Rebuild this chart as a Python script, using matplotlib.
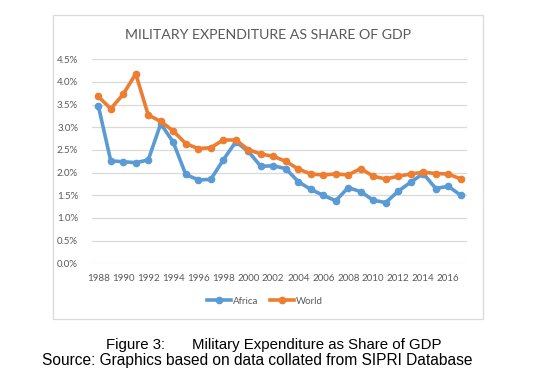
import matplotlib
matplotlib.use("Agg")
import matplotlib.pyplot as plt
from matplotlib.patches import Rectangle
from matplotlib.ticker import FuncFormatter, FixedLocator
from matplotlib.lines import Line2D

years = list(range(1988, 2018))
africa = [3.48, 2.26, 2.24, 2.22, 2.28, 3.08, 2.67, 1.96, 1.84, 1.85,
          2.28, 2.68, 2.47, 2.14, 2.15, 2.09, 1.80, 1.63, 1.50, 1.38,
          1.67, 1.58, 1.39, 1.34, 1.59, 1.79, 1.98, 1.65, 1.70, 1.50]
world = [3.68, 3.41, 3.73, 4.18, 3.27, 3.13, 2.92, 2.64, 2.53, 2.55,
         2.72, 2.72, 2.51, 2.41, 2.36, 2.25, 2.08, 1.97, 1.95, 1.97,
         1.95, 2.09, 1.92, 1.86, 1.92, 1.97, 2.01, 1.98, 1.97, 1.86]
yticks = [0.0, 0.5, 1.0, 1.5, 2.0, 2.5, 3.0, 3.5, 4.0, 4.5]
xtick_years = list(range(1988, 2017, 2))

title = "MILITARY EXPENDITURE AS SHARE OF GDP"
caption1a = "Figure 3:"
caption1b = "Military Expenditure as Share of GDP"
caption2 = "Source: Graphics based on data collated from SIPRI Database"

W, H = 534, 378
fig = plt.figure(figsize=(W / 100, H / 100), dpi=100)
fig.patch.set_facecolor("white")

# chart box border
fig.patches.append(Rectangle((53 / W, 1 - 319 / H), (483 - 53) / W, (319 - 15) / H,
                             transform=fig.transFigure, fill=False,
                             edgecolor="#d9d9d9", linewidth=0.9))

ax = fig.add_axes([92 / W, 1 - 263.3 / H, (467 - 92) / W, (263.3 - 59.3) / H])
grey = "#595959"
ax.plot(years, africa, color="#5B9BD5", lw=2.6, marker="o", ms=4.5, label="Africa", zorder=3)
ax.plot(years, world, color="#ED7D31", lw=2.6, marker="o", ms=4.5, label="World", zorder=3)
ax.set_xlim(1987.5, 2017.5)
ax.set_ylim(0, 4.5)
ax.yaxis.set_major_locator(FixedLocator(yticks))
ax.yaxis.set_major_formatter(FuncFormatter(lambda v, p: f"{v:.1f}%"))
ax.set_xticks(xtick_years)
ax.set_xticklabels([str(y) for y in xtick_years])
ax.grid(axis="y", color="#d9d9d9", lw=0.9)
ax.set_axisbelow(True)
for s in ax.spines.values():
    s.set_visible(False)
ax.tick_params(length=0, labelsize=7, labelcolor=grey, pad=7.5)
ax.tick_params(axis="y", pad=10)
for lab in ax.get_xticklabels() + ax.get_yticklabels():
    lab.set_fontfamily("Lato")

fig.text(268 / W, 1 - 35 / H, title, ha="center", va="center", fontsize=10.2,
         color=grey, family="Lato")

handles = [Line2D([], [], color="#5B9BD5", lw=2.6, marker="o", ms=4.5),
           Line2D([], [], color="#ED7D31", lw=2.6, marker="o", ms=4.5)]
fig.legend(handles, ["Africa", "World"], loc="center", bbox_to_anchor=(265 / W, 1 - 301 / H),
           ncol=2, frameon=False, prop={"family": "Lato", "size": 7}, labelcolor=grey,
           handlelength=2.5, handletextpad=0.2, columnspacing=1.2)

fig.text(106 / W, 1 - 345 / H, caption1a, ha="left", va="center", fontsize=10.8,
         family="Liberation Sans", color="black")
fig.text(192 / W, 1 - 345 / H, caption1b, ha="left", va="center", fontsize=10.8,
         family="Liberation Sans", color="black")
fig.text(42 / W, 1 - 360 / H, caption2, ha="left", va="center", fontsize=11.2,
         family="Liberation Sans", color="black")

fig.savefig("out.png", dpi=100, facecolor="white")
